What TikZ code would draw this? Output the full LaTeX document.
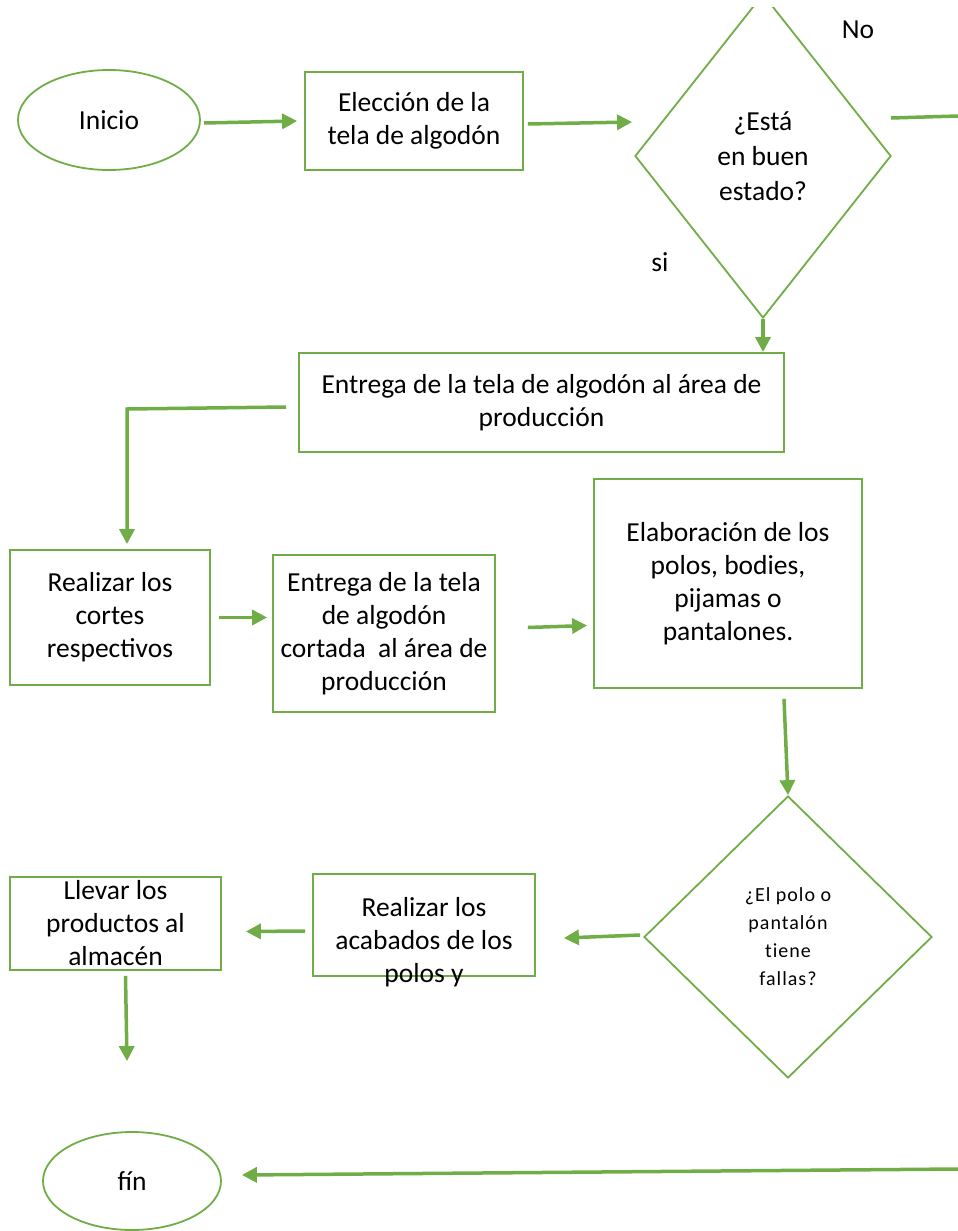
\documentclass[tikz,border=0pt]{standalone}
\usepackage{fontspec}
\setmainfont{Carlito}
\usetikzlibrary{shapes.geometric,arrows.meta,calc}
\definecolor{gr}{HTML}{70AD47}
\begin{document}
\begin{tikzpicture}[x=1pt,y=-1pt,
  base/.style={draw=gr, line width=1.8pt, align=center, inner sep=0pt,
    font=\fontsize{27.5}{33}\selectfont},
  box/.style={base, rectangle},
  oval/.style={base, ellipse},
  dec/.style={base, diamond},
  lbl/.style={font=\fontsize{27.5}{33}\selectfont, inner sep=0pt},
  arr/.style={draw=gr, line width=3.5pt, -{Triangle[length=15pt,width=15pt]}},
  ln/.style={draw=gr, line width=3.5pt}
]
\useasboundingbox (0,0) rectangle (958,1231);
\clip (0,0) rectangle (958,1231);

\node[oval, minimum width=182, minimum height=100] (ini) at (109,120) {Inicio};
\node[box, minimum width=218, minimum height=98] (elec) at (414,121) {Elección de la\\tela de algodón};
\begin{scope}
  \clip (0,8) rectangle (958,1231);
  \node[dec, minimum width=256, minimum height=324, font=\fontsize{27.5}{35}\selectfont] (d1) at (763,156) {¿Está\\en buen\\estado?};
\end{scope}
\node[lbl] (no) at (858,30) {No};
\node[lbl] (si) at (660,262) {si};
\node[box, minimum width=485, minimum height=99] (ent1) at (541.5,402.5) {Entrega de la tela de algodón al área de\\producción};
\node[box, minimum width=200, minimum height=135] (corte) at (110,617.5) {Realizar los\\cortes\\respectivos};
\node[box, minimum width=222, minimum height=157] (ent2) at (384,633.5) {Entrega de la tela\\de algodón\\cortada\ \ al área de\\producción};
\node[box, minimum width=268, minimum height=209] (elab) at (728,583.5) {Elaboración de los\\polos, bodies,\\pijamas o\\pantalones.};
\node[dec, minimum width=288, minimum height=282,
  font=\fontsize{20}{28}\selectfont\addfontfeatures{LetterSpace=5,Ligatures=NoCommon}] (d2) at (788,937) {¿El polo o\\pantalón\\tiene\\fallas?};
\node[box, minimum width=222, minimum height=102,
  label={[lbl, align=center, yshift=-17pt]center:{Realizar los\\acabados de los\\polos y}}] (acab) at (424,925) {};
\node[box, minimum width=211, minimum height=93] (lleva) at (115.5,923.5) {Llevar los\\productos al\\almacén};
\node[oval, minimum width=178, minimum height=98] (fin) at (132,1181) {fín};

\coordinate (noS) at (891,118);
\coordinate (noE) at (958,116);
\coordinate (b1) at (127,409);
\coordinate (rin) at (958,1169);

\draw[arr] ($(ini.east)+(3,3)$) -- ($(elec.west)+(-7,0)$);
\draw[arr] ($(elec.east)+(4,3)$) -- ($(d1.west)+(-2,-34)$);
\draw[ln] (noS) -- (noE);
\draw[arr] (d1.south) -- (d1.south |- ent1.north);
\draw[arr] ($(ent1.west)+(-12,4.5)$) -- (b1) -- ($(b1 |- corte.north)+(0,-5)$);
\draw[arr] ($(corte.east)+(8,0)$) -- ($(ent2.west |- corte.east)+(-5,0)$);
\draw[arr] ($(ent2.east)+(32,-6)$) -- ($(elab.west)+(-6,42)$);
\draw[arr] ($(elab.south)+(56,10)$) -- (d2.north);
\draw[arr] ($(d2.west)+(-3,-2)$) -- ($(acab.east)+(28,13)$);
\draw[arr] ($(acab.west)+(-7,6)$) -- ($(lleva.east)+(24,8)$);
\draw[arr] ($(lleva.south)+(10,5)$) -- ($(fin.north)+(-5,-70)$);
\draw[arr] (rin) -- ($(fin.east)+(20,-6)$);
\end{tikzpicture}
\end{document}
